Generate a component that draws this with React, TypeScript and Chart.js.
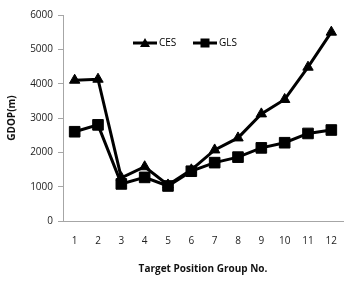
import React, { useEffect, useRef } from 'react';
import { Chart, registerables } from 'chart.js';

Chart.register(...registerables);

const categories = ['1', '2', '3', '4', '5', '6', '7', '8', '9', '10', '11', '12'];
const cesValues = [4100, 4130, 1260, 1580, 1050, 1490, 2070, 2420, 3120, 3540, 4480, 5500];
const glsValues = [2600, 2800, 1080, 1270, 1020, 1450, 1700, 1860, 2130, 2280, 2550, 2650];
const seriesNames = ['CES', 'GLS'];
const yMin = 0;
const yMax = 6000;
const yStep = 1000;
const xTitle = 'Target Position Group No.';
const yTitle = 'GDOP(m)';

const FONT = "'Open Sans', 'Liberation Sans', sans-serif";
const AXIS_GRAY = '#a6a6a6';

const legendPlugin = {
  id: 'insideLegend',
  afterDraw(chart: any) {
    const { ctx, chartArea } = chart;
    const y = chartArea.top + 28;
    const items = [
      { name: seriesNames[0], style: 'triangle', x0: chartArea.left + 70 },
      { name: seriesNames[1], style: 'rect', x0: chartArea.left + 130 },
    ];
    ctx.save();
    items.forEach((it) => {
      ctx.strokeStyle = '#000';
      ctx.fillStyle = '#000';
      ctx.lineWidth = 3;
      ctx.beginPath();
      ctx.moveTo(it.x0, y);
      ctx.lineTo(it.x0 + 24, y);
      ctx.stroke();
      const cx = it.x0 + 12;
      ctx.beginPath();
      if (it.style === 'triangle') {
        ctx.moveTo(cx, y - 5);
        ctx.lineTo(cx + 5, y + 4);
        ctx.lineTo(cx - 5, y + 4);
        ctx.closePath();
      } else {
        ctx.rect(cx - 4.5, y - 4.5, 9, 9);
      }
      ctx.fill();
      ctx.font = `10px ${FONT}`;
      ctx.textBaseline = 'middle';
      ctx.textAlign = 'left';
      ctx.fillStyle = '#000';
      ctx.fillText(it.name, it.x0 + 26, y);
    });
    ctx.restore();
  },
};

export default function App() {
  const ref = useRef<HTMLCanvasElement | null>(null);
  useEffect(() => {
    if (!ref.current) return;
    const chart = new Chart(ref.current, {
      type: 'line',
      data: {
        labels: categories,
        datasets: [
          {
            label: seriesNames[0],
            data: cesValues,
            borderColor: '#000',
            backgroundColor: '#000',
            borderWidth: 3,
            pointStyle: 'triangle',
            pointRadius: 6,
            pointBorderWidth: 1,
            tension: 0,
          },
          {
            label: seriesNames[1],
            data: glsValues,
            borderColor: '#000',
            backgroundColor: '#000',
            borderWidth: 3,
            pointStyle: 'rect',
            pointRadius: 7.5,
            pointBorderWidth: 1,
            tension: 0,
          },
        ],
      },
      options: {
        animation: false,
        responsive: false,
        maintainAspectRatio: false,
        layout: { padding: { top: 15, right: 17, left: 0, bottom: 0 } },
        plugins: {
          legend: { display: false },
          tooltip: { enabled: false },
        },
        scales: {
          x: {
            offset: true,
            grid: { display: true, drawOnChartArea: false, drawTicks: false },
            border: { display: true, color: AXIS_GRAY, width: 1 },
            ticks: { color: '#222', font: { family: FONT, size: 10 }, padding: 14 },
            title: {
              display: true,
              text: xTitle,
              color: '#111',
              font: { family: FONT, size: 10, weight: 'bold' },
              padding: { top: 0, bottom: 8 },
            },
            afterFit: (s: any) => {
              s.height = 62;
            },
          },
          y: {
            min: yMin,
            max: yMax,
            grid: { display: true, drawOnChartArea: false, drawTicks: true, tickLength: 5, color: AXIS_GRAY },
            border: { display: true, color: AXIS_GRAY, width: 1 },
            ticks: {
              stepSize: yStep,
              color: '#222',
              font: { family: FONT, size: 10 },
              padding: 5,
              callback: (v: any) => String(v),
            },
            title: {
              display: true,
              text: yTitle,
              color: '#111',
              font: { family: FONT, size: 10, weight: 'bold' },
              padding: { top: 6, bottom: 0 },
            },
            afterFit: (s: any) => {
              s.width = 63;
            },
          },
        },
      },
      plugins: [legendPlugin],
    } as any);
    return () => chart.destroy();
  }, []);
  return (
    <div style={{ position: 'fixed', left: 0, top: 0, width: 360, height: 283, background: '#fff' }}>
      <canvas ref={ref} width={360} height={283} style={{ width: 360, height: 283 }} />
    </div>
  );
}
